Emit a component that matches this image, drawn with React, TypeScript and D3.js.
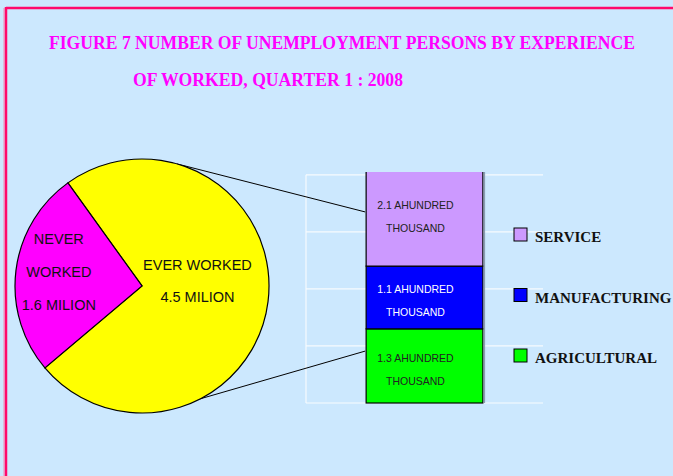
import React from 'react';
import * as d3 from 'd3';

const W = 673;
const H = 476;

const titleLines = ['FIGURE 7 NUMBER OF UNEMPLOYMENT PERSONS BY EXPERIENCE', 'OF WORKED, QUARTER 1 : 2008'];

// pie: million persons
const pieCategories = ['EVER WORKED', 'NEVER WORKED'];
const pieValues = [4.5, 1.6];
const pieLabels = [['EVER WORKED', '4.5 MILION'], ['NEVER', 'WORKED', '1.6 MILION']];
const pieColors = ['#ffff00', '#ff00ff'];

// bar: hundred thousand persons (stacked bottom -> top)
const barCategories = ['AGRICULTURAL', 'MANUFACTURING', 'SERVICE'];
const barValues = [1.3, 1.1, 2.1];
const barLabels = [['1.3 AHUNDRED', 'THOUSAND'], ['1.1 AHUNDRED', 'THOUSAND'], ['2.1 AHUNDRED', 'THOUSAND']];
const barColors = ['#00ff00', '#0000ff', '#cc99ff'];
const barTextColors = ['#222', '#fff', '#222'];
const gridTicks = [0, 1, 2, 3, 4];

const legendOrder = ['SERVICE', 'MANUFACTURING', 'AGRICULTURAL'];

export default function App() {
  const cx = 142;
  const cy = 286;
  const r = 127;
  const start = (-35.7 * Math.PI) / 180;

  const pie = d3.pie<number>().sort(null).startAngle(start).endAngle(start + 2 * Math.PI);
  const arcs = pie(pieValues);
  const arc = d3.arc<d3.PieArcDatum<number>>().innerRadius(0).outerRadius(r);
  const labelArc = [
    d3.arc<d3.PieArcDatum<number>>().innerRadius(0).outerRadius(r * 0.88),
    d3.arc<d3.PieArcDatum<number>>().innerRadius(0).outerRadius(r * 1.32),
  ];

  const y = d3.scaleLinear().domain([0, 4.05]).range([403, 172]);
  const x = d3.scaleBand().domain(['bar']).range([306, 543]).padding(0.34);
  const bx = x('bar') as number;
  const bw = x.bandwidth();
  const stack = d3.stack<any>().keys(barCategories)([Object.fromEntries(barCategories.map((c, i) => [c, barValues[i]]))]);

  // leader lines: pie angle (deg, clockwise from top) -> bar value on left edge
  const leaders = [
    { angle: 15.9, value: 3.35 },
    { angle: 152.6, value: 0.91 },
  ];

  const legendY = d3.scalePoint().domain(legendOrder).range([235, 356]);

  return (
    <svg width={W} height={H} style={{ position: 'absolute', left: 0, top: 0 }} fontFamily="'Liberation Sans', Arial, sans-serif">
      <defs>
        <clipPath id="plot">
          <rect x={300} y={y(4.05)} width={260} height={y(0) - y(4.05) + 2} />
        </clipPath>
      </defs>
      <rect width={W} height={H} fill="#cce8fe" />
      {/* frame */}
      <line x1={4} y1={8} x2={4} y2={H} stroke="#f78bb4" strokeWidth={1} />
      <line x1={6} y1={8} x2={W} y2={8} stroke="#ff0a6c" strokeWidth={2.5} />
      <line x1={6} y1={7} x2={6} y2={H} stroke="#ff0a6c" strokeWidth={2.5} />

      {/* title: tall, condensed bold serif */}
      <g fill="#ff00ff" fontFamily="'Liberation Serif', 'Times New Roman', serif" fontWeight="bold" fontSize={17}>
        <text transform="translate(49,48.5) scale(1,1.15)" textLength={586} lengthAdjust="spacingAndGlyphs">{titleLines[0]}</text>
        <text transform="translate(133,86) scale(1,1.15)" textLength={270} lengthAdjust="spacingAndGlyphs">{titleLines[1]}</text>
      </g>

      {/* grid */}
      <g stroke="#ffffff" strokeWidth={1.2} opacity={0.85}>
        {gridTicks.map((t) => (
          <line key={t} x1={306} x2={543} y1={y(t)} y2={y(t)} />
        ))}
        <line x1={306} x2={306} y1={y(4)} y2={y(0)} />
      </g>

      {/* bar */}
      <g clipPath="url(#plot)">
        {stack.map((s, i) => (
          <rect key={s.key} x={bx} width={bw} y={y(s[0][1])} height={y(s[0][0]) - y(s[0][1])} fill={barColors[i]} stroke="#000" strokeWidth={1.2} />
        ))}
        <line x1={bx + bw + 1.5} x2={bx + bw + 1.5} y1={y(4.05)} y2={y(0)} stroke="#8a9bb0" strokeWidth={1.5} />
      </g>
      {stack.map((s, i) => {
        const mid = (y(s[0][0]) + y(Math.min(s[0][1], 4.05))) / 2;
        const off = i === 2 ? -3 : 3;
        return (
          <g key={s.key} fill={barTextColors[i]} fontSize={10.5} textAnchor="middle">
            <text x={bx + bw / 2 - 9} y={mid - 7 + off}>{barLabels[i][0]}</text>
            <text x={bx + bw / 2 - 9} y={mid + 16 + off}>{barLabels[i][1]}</text>
          </g>
        );
      })}

      {/* leader lines */}
      {leaders.map((l, i) => {
        const a = (l.angle * Math.PI) / 180;
        return (
          <line key={i} x1={cx + r * Math.sin(a)} y1={cy - r * Math.cos(a)} x2={bx - 1} y2={y(l.value)} stroke="#000" strokeWidth={1} />
        );
      })}

      {/* pie */}
      <g transform={`translate(${cx},${cy})`}>
        {arcs.map((d, i) => (
          <path key={pieCategories[i]} d={arc(d) as string} fill={pieColors[i]} stroke="#000" strokeWidth={1.2} />
        ))}
        {arcs.map((d, i) => {
          const [lx, ly] = labelArc[i].centroid(d);
          const lines = pieLabels[i];
          const gap = i === 0 ? 32 : 33;
          const y0 = i === 0 ? ly - 28 : ly - gap - 4;
          return (
            <g key={i} fontSize={14.5} fill="#111" textAnchor="middle">
              {lines.map((t, j) => (
                <text key={j} x={lx} y={y0 + j * gap + 5}>{t}</text>
              ))}
            </g>
          );
        })}
      </g>

      {/* legend */}
      <g fontFamily="'Liberation Serif', 'Times New Roman', serif" fontWeight="bold" fontSize={15} fill="#111">
        {legendOrder.map((c) => {
          const i = barCategories.indexOf(c);
          const ly = legendY(c) as number;
          return (
            <g key={c}>
              <rect x={514} y={ly - 7} width={13} height={13} fill={barColors[i]} stroke="#000" strokeWidth={1} />
              <text x={535} y={ly + 7}>{c}</text>
            </g>
          );
        })}
      </g>
    </svg>
  );
}
